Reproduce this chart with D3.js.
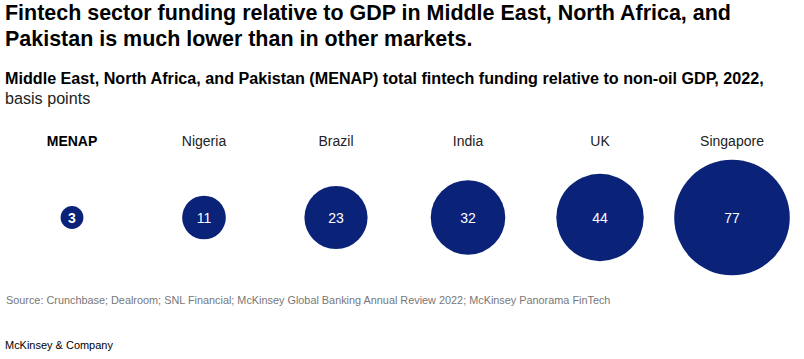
<!DOCTYPE html>
<html>
<head>
<meta charset="utf-8">
<script src="https://cdn.jsdelivr.net/npm/d3@7"></script>
<style>
  html, body { margin: 0; padding: 0; background: #fff; }
  svg { display: block; font-family: "Liberation Sans", Arial, sans-serif; }
</style>
</head>
<body>
<div id="chart"></div>
<script>
const categories = ["MENAP", "Nigeria", "Brazil", "India", "UK", "Singapore"];
const values = [3, 11, 23, 32, 44, 77];
const highlight = ["MENAP"];

const titleLines = [
  "Fintech sector funding relative to GDP in Middle East, North Africa, and",
  "Pakistan is much lower than in other markets."
];
const subtitleBold = "Middle East, North Africa, and Pakistan (MENAP) total fintech funding relative to non-oil GDP, 2022,";
const subtitleUnit = "basis points";
const sourceText = "Source: Crunchbase; Dealroom; SNL Financial; McKinsey Global Banking Annual Review 2022; McKinsey Panorama FinTech";
const footerText = "McKinsey & Company";

const W = 804, H = 359;
const navy = "#0a2277";

const svg = d3.select("#chart").append("svg")
  .attr("width", W).attr("height", H);

// fit text to a target width by adjusting font size
function fit(sel, targetWidth) {
  const node = sel.node();
  let fs = parseFloat(sel.attr("font-size"));
  const w = node.getComputedTextLength();
  if (w > 0) sel.attr("font-size", (fs * targetWidth / w).toFixed(2));
  return sel;
}

// Title
const t1 = svg.append("text").attr("x", 5).attr("y", 20)
  .attr("font-size", 19).attr("font-weight", "bold").attr("fill", "#000")
  .text(titleLines[0]);
fit(t1, 726);
const tfs = t1.attr("font-size");
svg.append("text").attr("x", 5).attr("y", 46)
  .attr("font-size", tfs).attr("font-weight", "bold").attr("fill", "#000")
  .text(titleLines[1]);

// Subtitle
const st = svg.append("text").attr("x", 5).attr("y", 84)
  .attr("font-size", 15).attr("font-weight", "bold").attr("fill", "#000")
  .text(subtitleBold);
fit(st, 759);
svg.append("text").attr("x", 5).attr("y", 104)
  .attr("font-size", st.attr("font-size")).attr("fill", "#222")
  .text(subtitleUnit);

// Scales
const x = d3.scalePoint().domain(categories).range([72, 732]);
const r = d3.scaleSqrt().domain([0, 77]).range([0, 57.8]);
const cy = 217.5;

const g = svg.append("g");
const items = g.selectAll("g.item").data(categories.map((c, i) => ({c, v: values[i]})))
  .join("g").attr("class", "item")
  .attr("transform", d => `translate(${x(d.c)},0)`);

items.append("text")
  .attr("y", 146).attr("text-anchor", "middle")
  .attr("font-size", 14)
  .attr("font-weight", d => highlight.includes(d.c) ? "bold" : "normal")
  .attr("fill", d => highlight.includes(d.c) ? "#000" : "#222")
  .text(d => d.c);

items.append("circle")
  .attr("cy", cy).attr("r", d => r(d.v)).attr("fill", navy);

items.append("text")
  .attr("y", cy + 5).attr("text-anchor", "middle")
  .attr("font-size", 14)
  .attr("font-weight", d => highlight.includes(d.c) ? "bold" : "normal")
  .attr("fill", "#fff")
  .text(d => d.v);

// Source
const src = svg.append("text").attr("x", 6).attr("y", 304)
  .attr("font-size", 11).attr("fill", "#777").text(sourceText);
fit(src, 605);

// Footer
const ft = svg.append("text").attr("x", 5).attr("y", 349)
  .attr("font-size", 11).attr("fill", "#000").text(footerText);
fit(ft, 108);
</script>
</body>
</html>
